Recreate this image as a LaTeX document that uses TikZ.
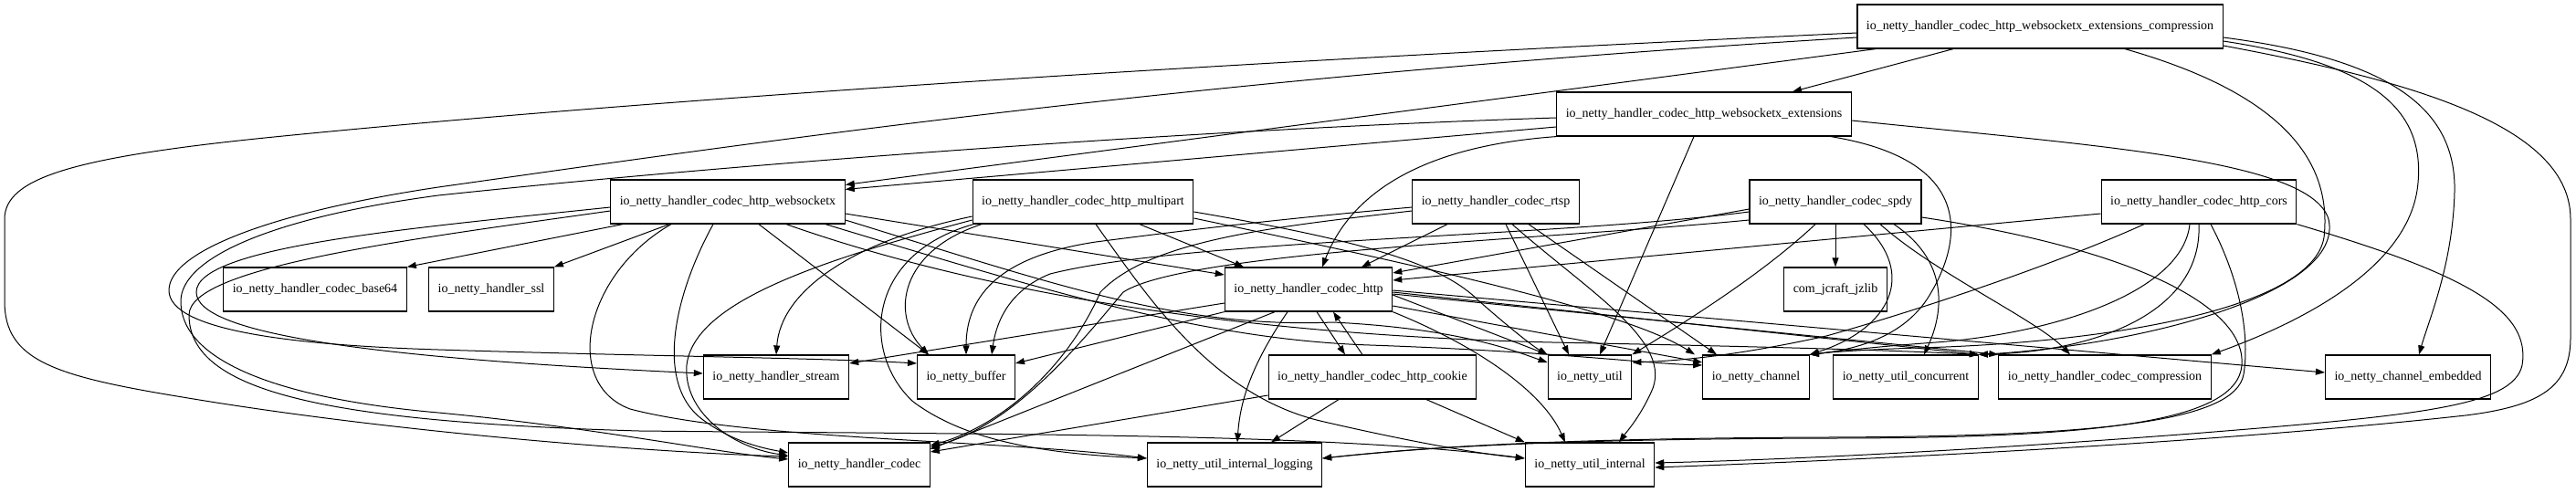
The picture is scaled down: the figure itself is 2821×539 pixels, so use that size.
\documentclass[tikz,border=0pt]{standalone}
\usepackage{fontspec}
\setmainfont{Liberation Serif}
\usepackage{tikz}
\usetikzlibrary{arrows.meta}

\begin{document}
\begin{tikzpicture}[x=1pt, y=-1pt,
	pkg/.style={draw, line width=1.2pt, rectangle, minimum height=48pt, inner xsep=10pt, font=\fontsize{14pt}{16pt}\selectfont},
	dep/.style={-{Triangle[length=10pt,width=7pt]}, line width=1pt}]
	\useasboundingbox (0,0) rectangle (2821,539);
	\node[pkg] (wsxcomp) at (2234,29) {io\_netty\_handler\_codec\_http\_websocketx\_extensions\_compression};
	\node[pkg] (wsxext) at (1866,125) {io\_netty\_handler\_codec\_http\_websocketx\_extensions};
	\node[pkg] (wsx) at (797,221) {io\_netty\_handler\_codec\_http\_websocketx};
	\node[pkg] (multipart) at (1186,221) {io\_netty\_handler\_codec\_http\_multipart};
	\node[pkg] (rtsp) at (1638,221) {io\_netty\_handler\_codec\_rtsp};
	\node[pkg] (spdy) at (2010,221) {io\_netty\_handler\_codec\_spdy};
	\node[pkg] (cors) at (2408,221) {io\_netty\_handler\_codec\_http\_cors};
	\node[pkg] (base64) at (345,317) {io\_netty\_handler\_codec\_base64};
	\node[pkg] (ssl) at (538,317) {io\_netty\_handler\_ssl};
	\node[pkg] (http) at (1433,317) {io\_netty\_handler\_codec\_http};
	\node[pkg] (jzlib) at (2010,317) {com\_jcraft\_jzlib};
	\node[pkg] (stream) at (850,413) {io\_netty\_handler\_stream};
	\node[pkg] (buffer) at (1058,413) {io\_netty\_buffer};
	\node[pkg] (cookie) at (1503,413) {io\_netty\_handler\_codec\_http\_cookie};
	\node[pkg] (util) at (1741,413) {io\_netty\_util};
	\node[pkg] (channel) at (1923,413) {io\_netty\_channel};
	\node[pkg] (concurrent) at (2087,413) {io\_netty\_util\_concurrent};
	\node[pkg] (compression) at (2305,413) {io\_netty\_handler\_codec\_compression};
	\node[pkg] (embedded) at (2637,413) {io\_netty\_channel\_embedded};
	\node[pkg] (codec) at (941,509) {io\_netty\_handler\_codec};
	\node[pkg] (logging) at (1352,509) {io\_netty\_util\_internal\_logging};
	\node[pkg] (internal) at (1741,509) {io\_netty\_util\_internal};

	\draw[dep] ([xshift=-95pt]wsxcomp.south) -- ([xshift=97pt]wsxext.north);
	\draw[dep] ([xshift=-180pt]wsxcomp.south) -- ([yshift=-6pt]wsx.north east);
	\draw[dep] ([yshift=-7pt]wsxcomp.west) .. controls (1300,70) and (700,110) .. (300,150) .. controls (80,172) and (5,195) .. (5,240) -- (5,330) .. controls (5,395) and (60,412) .. (200,435) .. controls (420,472) and (700,495) .. ([yshift=9pt]codec.west);
	\draw[dep] ([yshift=-12pt]wsxcomp.west) .. controls (1300,85) and (800,160) .. (480,205) .. controls (300,232) and (185,275) .. (185,318) .. controls (185,362) and (320,378) .. (480,383) .. controls (700,390) and (900,392) .. ([yshift=15pt]buffer.west);
	\draw[dep] ([yshift=-12pt]wsxcomp.east) .. controls (2620,65) and (2690,120) .. (2688,210) .. controls (2686,290) and (2660,350) .. ([xshift=12pt]embedded.north);
	\draw[dep] ([yshift=-16pt]wsxcomp.east) .. controls (2600,70) and (2655,120) .. (2648,200) .. controls (2640,300) and (2500,360) .. (compression.north east);
	\draw[dep] ([yshift=-21pt]wsxcomp.east) .. controls (2650,90) and (2815,140) .. (2815,240) -- (2815,370) .. controls (2815,425) and (2780,445) .. (2700,455) .. controls (2400,488) and (2000,505) .. ([yshift=-3pt]internal.east);
	\draw[dep] ([xshift=93pt]wsxcomp.south) .. controls (2490,100) and (2555,170) .. (2545,260) .. controls (2532,340) and (2300,376) .. (2100,381) .. controls (2040,383) and (2000,386) .. (channel.north east);

	\draw[dep] ([yshift=-14pt]wsxext.west) -- ([yshift=-11pt]wsx.north east);
	\draw[dep] ([yshift=-4pt]wsxext.west) .. controls (1300,142) and (800,180) .. (480,214) .. controls (300,238) and (198,282) .. (198,330) .. controls (198,400) and (320,438) .. (480,452) .. controls (650,468) and (780,495) .. ([yshift=6pt]codec.west);
	\draw[dep] (wsxext.south west) .. controls (1560,160) and (1480,210) .. ([xshift=15pt]http.north);
	\draw[dep] ([xshift=-11pt]wsxext.south) -- ([xshift=11pt]util.north);
	\draw[dep] ([xshift=139pt]wsxext.south) .. controls (2160,175) and (2150,260) .. (2115,320) .. controls (2090,365) and (2040,382) .. (channel.north east);
	\draw[dep] ([yshift=-7pt]wsxext.east) .. controls (2300,160) and (2530,175) .. (2550,240) .. controls (2568,320) and (2350,378) .. (concurrent.north east);

	\draw[dep] ([xshift=-115pt]wsx.south) -- (base64.north east);
	\draw[dep] ([xshift=-64pt]wsx.south) -- (ssl.north east);
	\draw[dep] ([yshift=-6pt]wsx.west) .. controls (450,250) and (215,270) .. (215,320) .. controls (215,365) and (400,392) .. ([yshift=4pt]stream.west);
	\draw[dep] ([yshift=-10pt]wsx.west) .. controls (450,262) and (207,292) .. (207,345) .. controls (207,430) and (360,462) .. (700,472) .. controls (1100,476) and (1450,474) .. ([yshift=7pt]internal.west);
	\draw[dep] ([xshift=34pt]wsx.south) -- ([xshift=13pt]buffer.north west);
	\draw[dep] ([xshift=-16pt]wsx.south) .. controls (740,320) and (715,420) .. (770,460) .. controls (800,482) and (830,490) .. ([yshift=13pt]codec.west);
	\draw[dep] ([xshift=-62pt]wsx.south) .. controls (640,300) and (615,420) .. (690,448) .. controls (820,482) and (1100,482) .. ([yshift=7pt]logging.west);
	\draw[dep] ([yshift=-13pt]wsx.east) -- ([yshift=16pt]http.west);
	\draw[dep] ([yshift=-20pt]wsx.east) .. controls (1150,310) and (1290,360) .. (1460,353) .. controls (1600,360) and (1660,385) .. ([yshift=16pt]util.west);
	\draw[dep] ([xshift=107pt]wsx.south) .. controls (1150,320) and (1320,372) .. (1500,378) .. controls (1700,385) and (1800,398) .. ([yshift=13pt]channel.west);
	\draw[dep] ([xshift=64pt]wsx.south) .. controls (1100,330) and (1400,368) .. (1700,375) .. controls (1950,380) and (2080,384) .. (concurrent.north east);

	\draw[dep] ([xshift=62pt]multipart.south) -- ([xshift=-71pt]http.north);
	\draw[dep] ([yshift=-16pt]multipart.west) .. controls (930,265) and (855,320) .. (stream.north);
	\draw[dep] ([yshift=-20pt]multipart.west) .. controls (900,285) and (760,330) .. (752,400) .. controls (748,450) and (800,490) .. ([yshift=10pt]codec.west);
	\draw[dep] ([xshift=-111pt]multipart.south) .. controls (985,275) and (975,345) .. ([xshift=13pt]buffer.north west);
	\draw[dep] ([xshift=-120pt]multipart.south) .. controls (945,280) and (945,390) .. (1000,440) .. controls (1060,485) and (1150,497) .. ([yshift=7pt]logging.west);
	\draw[dep] ([xshift=14pt]multipart.south) .. controls (1260,330) and (1330,435) .. (1450,462) .. controls (1550,485) and (1620,497) .. ([yshift=7pt]internal.west);
	\draw[dep] ([yshift=-11pt]multipart.east) .. controls (1500,265) and (1580,290) .. (1620,330) .. controls (1660,365) and (1680,380) .. (util.north west);
	\draw[dep] ([yshift=-18pt]multipart.east) .. controls (1550,290) and (1780,340) .. ([xshift=-67pt]channel.north);

	\draw[dep] ([xshift=-53pt]rtsp.south) -- ([xshift=58pt]http.north);
	\draw[dep] ([yshift=-6pt]rtsp.west) .. controls (1400,240) and (1300,252) .. (1200,265) .. controls (1100,280) and (1058,320) .. (buffer.north);
	\draw[dep] ([yshift=-10pt]rtsp.west) .. controls (1400,248) and (1260,262) .. (1205,320) .. controls (1170,400) and (1100,465) .. ([yshift=21pt]codec.east);
	\draw[dep] ([xshift=11pt]rtsp.south) -- ([xshift=-23pt]util.north);
	\draw[dep] ([xshift=18pt]rtsp.south) .. controls (1740,320) and (1835,375) .. (1808,430) .. controls (1795,458) and (1782,472) .. ([xshift=32pt]internal.north);
	\draw[dep] ([xshift=36pt]rtsp.south) -- ([xshift=-43pt]channel.north);

	\draw[dep] ([yshift=-8pt]spdy.west) -- ([yshift=18pt]http.east);
	\draw[dep] ([yshift=-11pt]spdy.west) .. controls (1700,260) and (1300,262) .. (1150,300) .. controls (1100,320) and (1090,360) .. ([xshift=28pt]buffer.north);
	\draw[dep] ([yshift=-20pt]spdy.west) .. controls (1700,262) and (1300,275) .. (1230,320) .. controls (1180,380) and (1110,465) .. ([yshift=19pt]codec.east);
	\draw[dep] ([xshift=-22pt]spdy.south) .. controls (1930,300) and (1850,350) .. (util.north east);
	\draw[dep] (spdy.south) -- (jzlib.north);
	\draw[dep] ([xshift=31pt]spdy.south) .. controls (2100,300) and (2070,360) .. (channel.north east);
	\draw[dep] ([xshift=64pt]spdy.south) .. controls (2140,290) and (2125,350) .. ([xshift=20pt]concurrent.north);
	\draw[dep] ([xshift=49pt]spdy.south) .. controls (2120,300) and (2230,350) .. ([xshift=-38pt]compression.north);
	\draw[dep] ([yshift=-17pt]spdy.east) .. controls (2350,275) and (2460,340) .. (2455,400) .. controls (2450,462) and (2300,480) .. (2000,480) .. controls (1700,481) and (1560,490) .. ([yshift=7pt]logging.east);

	\draw[dep] ([yshift=-13pt]cors.west) -- ([yshift=10pt]http.east);
	\draw[dep] ([xshift=-60pt]cors.south) .. controls (2250,290) and (2100,340) .. (2000,368) .. controls (1900,390) and (1840,395) .. ([yshift=16pt]util.east);
	\draw[dep] ([xshift=-10pt]cors.south) .. controls (2390,320) and (2250,365) .. (2120,375) .. controls (2050,380) and (2010,385) .. (channel.north east);
	\draw[dep] (cors.south) .. controls (2412,340) and (2300,385) .. (concurrent.north east);
	\draw[dep] ([xshift=13pt]cors.south) .. controls (2460,320) and (2462,380) .. (2457,410) .. controls (2448,462) and (2300,478) .. (2000,479) .. controls (1700,480) and (1560,490) .. ([yshift=7pt]logging.east);
	\draw[dep] (cors.south east) .. controls (2700,300) and (2772,340) .. (2762,400) .. controls (2752,445) and (2650,455) .. (2400,475) .. controls (2100,498) and (1900,505) .. ([yshift=2pt]internal.east);

	\draw[dep] ([xshift=9pt]http.south) -- ([xshift=-30pt]cookie.north);
	\draw[dep] ([yshift=-15pt]http.west) -- ([yshift=15pt]stream.east);
	\draw[dep] (http.south west) -- ([yshift=15pt]buffer.east);
	\draw[dep] ([xshift=-37pt]http.south) -- ([yshift=17pt]codec.east);
	\draw[dep] ([xshift=-23pt]http.south) .. controls (1370,400) and (1358,440) .. ([xshift=3pt]logging.north);
	\draw[dep] ([yshift=-6pt]http.east) -- (util.north west);
	\draw[dep] ([yshift=-18pt]http.east) -- ([yshift=16pt]channel.west);
	\draw[dep] ([yshift=-3pt]http.east) -- (concurrent.north east);
	\draw[dep] ([yshift=-5pt]http.east) -- (compression.north west);
	\draw[dep] ([yshift=-1pt]http.east) -- ([yshift=5pt]embedded.west);
	\draw[dep] (http.south east) .. controls (1620,380) and (1690,430) .. ([xshift=-27pt]internal.north);

	\draw[dep] ([xshift=-11pt]cookie.north) -- ([xshift=27pt]http.south);
	\draw[dep] ([yshift=-20pt]cookie.west) -- ([yshift=14pt]codec.east);
	\draw[dep] ([xshift=-37pt]cookie.south) -- ([xshift=40pt]logging.north);
	\draw[dep] ([xshift=59pt]cookie.south) -- (internal.north west);
\end{tikzpicture}
\end{document}
